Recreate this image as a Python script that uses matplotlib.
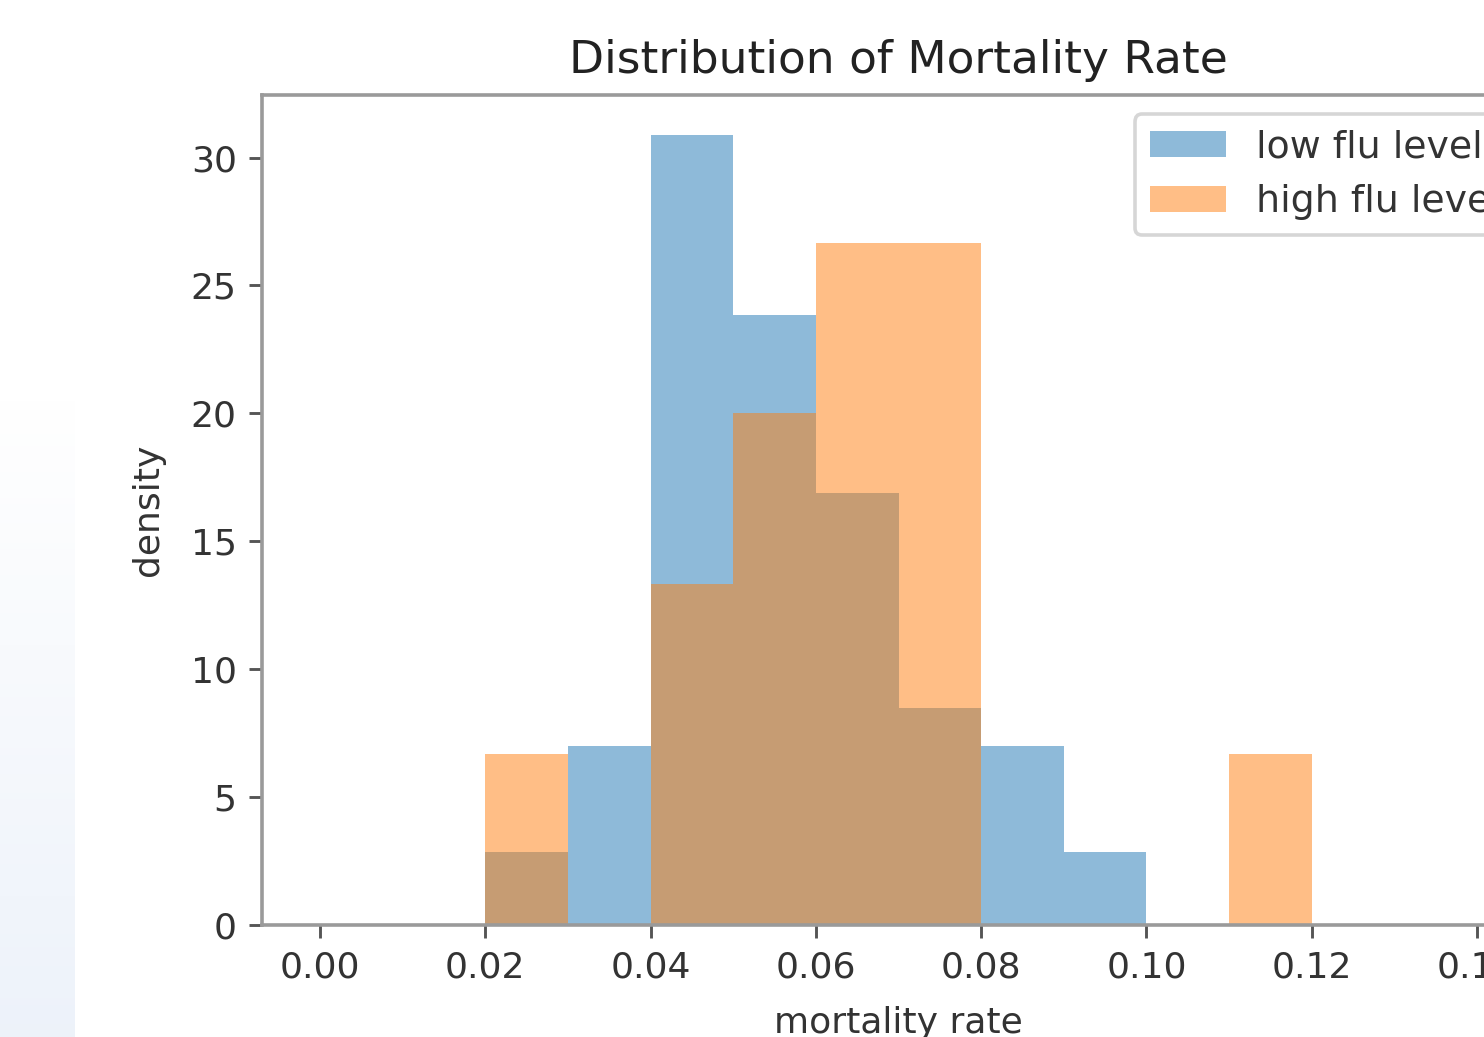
import matplotlib
matplotlib.use("Agg")
import matplotlib.pyplot as plt
import numpy as np

# histogram bin edges (mortality rate)
bin_edges = [0.00, 0.01, 0.02, 0.03, 0.04, 0.05, 0.06, 0.07,
             0.08, 0.09, 0.10, 0.11, 0.12, 0.13, 0.14]

# density per bin
low_flu = [0, 0, 2.85, 7.0, 30.9, 23.85, 16.9, 8.5, 7.0, 2.85, 0, 0, 0, 0]
high_flu = [0, 0, 6.67, 0, 13.33, 20.0, 26.67, 26.67, 0, 0, 0, 6.67, 0, 0]

W, H, DPI = 1484, 1037, 260
fig = plt.figure(figsize=(W / DPI, H / DPI), dpi=DPI)

# light page-background strip at the lower left of the screenshot
bg = fig.add_axes([0, 0, 75 / W, (H - 395) / H], zorder=-1)
grad = np.linspace(0, 1, 100).reshape(-1, 1)
top = np.array([1.0, 1.0, 1.0])
bottom = np.array([0.93, 0.95, 0.98])
img = top + (bottom - top) * grad[:, :, None]
bg.imshow(img, aspect="auto", extent=[0, 1, 0, 1])
bg.axis("off")

ax = fig.add_axes([262 / W, 1 - 925 / H, (1535 - 262) / W, (925 - 95) / H])
centers = bin_edges[:-1]
ax.hist(centers, bins=bin_edges, weights=low_flu, alpha=0.5, label="low flu level")
ax.hist(centers, bins=bin_edges, weights=high_flu, alpha=0.5, label="high flu level")

for s in ax.spines.values():
    s.set_color("#9a9a9a")
    s.set_linewidth(1.0)
ax.tick_params(color="#555555", labelcolor="#333333")

ax.set_title("Distribution of Mortality Rate", fontsize=12.6, color="#222222")
ax.set_xlabel("mortality rate", color="#333333", labelpad=6)
ax.set_ylabel("density", color="#333333", labelpad=7)
leg = ax.legend(loc="upper right", fontsize=10.5)
for t in leg.get_texts():
    t.set_color("#333333")

fig.savefig("out.png", dpi=DPI)
